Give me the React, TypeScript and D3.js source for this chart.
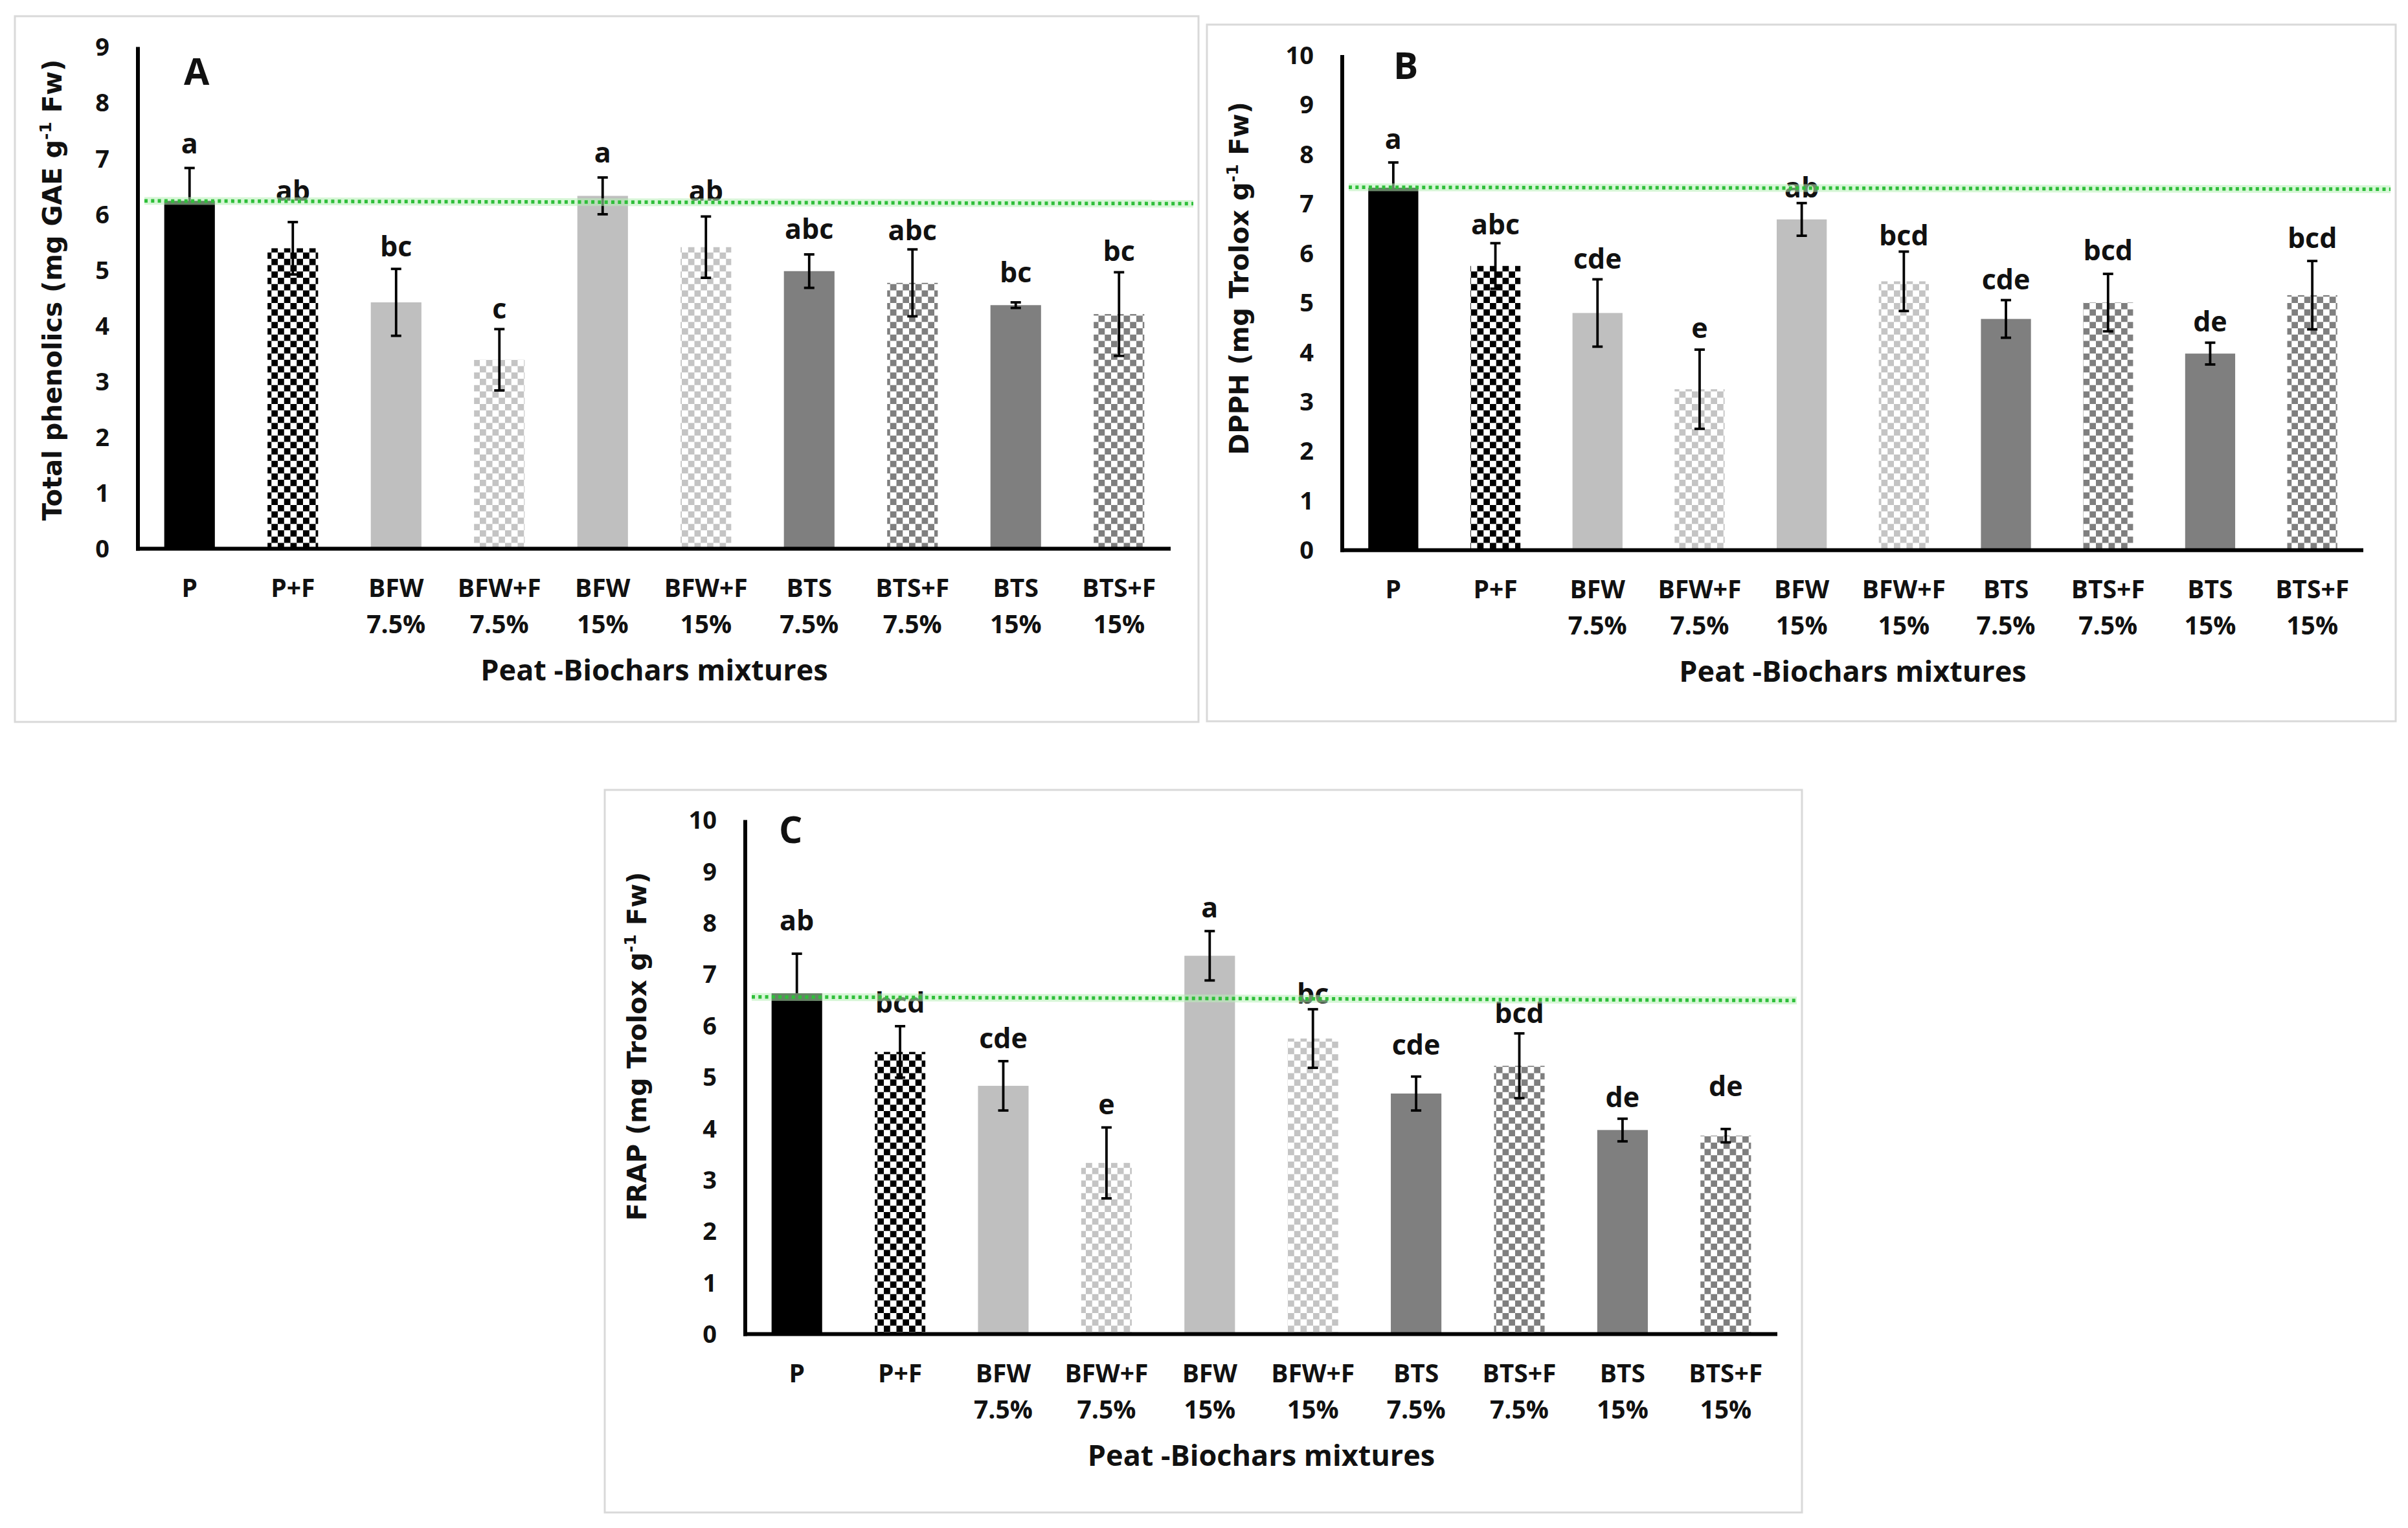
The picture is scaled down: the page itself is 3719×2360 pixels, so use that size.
import React from "react";
import * as d3 from "d3";

// categories (two-line tick labels)
const catTop = ["P", "P+F", "BFW", "BFW+F", "BFW", "BFW+F", "BTS", "BTS+F", "BTS", "BTS+F"];
const catBottom = ["", "", "7.5%", "7.5%", "15%", "15%", "7.5%", "7.5%", "15%", "15%"];

// A - total phenolics
const phenolicsMean = [6.24, 5.39, 4.42, 3.39, 6.33, 5.41, 4.98, 4.77, 4.37, 4.21];
const phenolicsErr = [0.59, 0.47, 0.6, 0.55, 0.33, 0.55, 0.3, 0.6, 0.05, 0.75];
const phenolicsLetters = ["a", "ab", "bc", "c", "a", "ab", "abc", "abc", "bc", "bc"];
const phenolicsLetterAt = [7.09, 6.24, 5.24, 4.13, 6.93, 6.24, 5.56, 5.53, 4.78, 5.16];
const phenolicsRef = [6.24, 6.19];

// B - DPPH
const dpphMean = [7.32, 5.74, 4.79, 3.25, 6.68, 5.43, 4.67, 5.0, 3.97, 5.15];
const dpphErr = [0.51, 0.46, 0.68, 0.8, 0.33, 0.6, 0.38, 0.58, 0.22, 0.69];
const dpphLetters = ["a", "abc", "cde", "e", "ab", "bcd", "cde", "bcd", "de", "bcd"];
const dpphLetterAt = [8.11, 6.38, 5.69, 4.28, 7.12, 6.16, 5.27, 5.85, 4.42, 6.1];
const dpphRef = [7.33, 7.29];

// C - FRAP
const frapMean = [6.63, 5.49, 4.83, 3.33, 7.36, 5.75, 4.68, 5.22, 3.97, 3.86];
const frapErr = [0.77, 0.5, 0.48, 0.69, 0.48, 0.57, 0.33, 0.63, 0.22, 0.13];
const frapLetters = ["ab", "bcd", "cde", "e", "a", "bc", "cde", "bcd", "de", "de"];
const frapLetterAt = [7.85, 6.26, 5.56, 4.28, 8.11, 6.43, 5.43, 6.05, 4.42, 4.63];
const frapRef = [6.56, 6.49];

const barFills = [
  "#000000", "url(#chkBlack)", "#bfbfbf", "url(#chkLight)", "#bfbfbf",
  "url(#chkLight)", "#7f7f7f", "url(#chkDark)", "#7f7f7f", "url(#chkDark)",
];

const W = 3719;
const H = 2360;
const FONT = "'Open Sans', 'Noto Sans', sans-serif";

const panels = [
  {
    id: "A", mean: phenolicsMean, err: phenolicsErr, letters: phenolicsLetters,
    letterAt: phenolicsLetterAt, ref: phenolicsRef, yMax: 9,
    yTitle: "Total phenolics (mg GAE g",
    box: [23, 25, 1851, 1115], x0: 213, x1: 1808, yTop: 72.6, yZero: 847.6,
    titleX: 80.6, titleY: 448, tagX: 284, tagY: 131,
  },
  {
    id: "B", mean: dpphMean, err: dpphErr, letters: dpphLetters,
    letterAt: dpphLetterAt, ref: dpphRef, yMax: 10,
    yTitle: "DPPH (mg Trolox g",
    box: [1864, 38, 3700, 1114], x0: 2073, x1: 3650, yTop: 85, yZero: 849.7,
    titleX: 1914, titleY: 430, tagX: 2152, tagY: 122,
  },
  {
    id: "C", mean: frapMean, err: frapErr, letters: frapLetters,
    letterAt: frapLetterAt, ref: frapRef, yMax: 10,
    yTitle: "FRAP (mg Trolox g",
    box: [934, 1220, 2783, 2336], x0: 1151, x1: 2745, yTop: 1266.6, yZero: 2060.5,
    titleX: 984, titleY: 1616, tagX: 1203, tagY: 1302,
  },
];

type PanelDef = (typeof panels)[number];

const Checker = ({ id, color }: { id: string; color: string }) => {
  const c = 9.75;
  return (
    <pattern id={id} patternUnits="userSpaceOnUse" width={c * 2} height={c * 2}>
      <rect width={c * 2} height={c * 2} fill="#ffffff" />
      <rect width={c} height={c} fill={color} />
      <rect x={c} y={c} width={c} height={c} fill={color} />
    </pattern>
  );
};

const Panel = ({ p }: { p: PanelDef }) => {
  const x = d3
    .scaleBand<number>()
    .domain(d3.range(catTop.length))
    .range([p.x0, p.x1])
    .paddingInner(0.51)
    .paddingOuter(0.255);
  const y = d3.scaleLinear().domain([0, p.yMax]).range([p.yZero, p.yTop]);
  const bw = x.bandwidth();
  const cap = 8;
  const [bx0, by0, bx1, by1] = p.box;
  const refX0 = p.x0 + 10;
  const refX1 = bx1 - 8;

  return (
    <g>
      <rect x={bx0} y={by0} width={bx1 - bx0} height={by1 - by0} fill="#ffffff" stroke="#d9d9d9" strokeWidth={3} />

      {/* bars */}
      {p.mean.map((m, i) => (
        <rect key={i} x={x(i)} y={y(m)} width={bw} height={y(0) - y(m)} fill={barFills[i]} />
      ))}

      {/* error bars */}
      {p.mean.map((m, i) => {
        const cx = (x(i) as number) + bw / 2;
        const hi = y(m + p.err[i]);
        const lo = y(m - p.err[i]);
        return (
          <g key={i} stroke="#000" strokeWidth={3.8}>
            <line x1={cx} x2={cx} y1={hi} y2={lo} />
            <line x1={cx - cap} x2={cx + cap} y1={hi} y2={hi} />
            <line x1={cx - cap} x2={cx + cap} y1={lo} y2={lo} />
          </g>
        );
      })}

      {/* axes */}
      <line x1={p.x0} x2={p.x0} y1={y(p.yMax)} y2={y(0) + 3} stroke="#000" strokeWidth={6} />
      <line x1={p.x0 - 3} x2={p.x1} y1={y(0)} y2={y(0)} stroke="#000" strokeWidth={6} />

      {y.ticks(p.yMax).map((t) => (
        <text key={t} x={p.x0 - 44} y={y(t)} dy="0.36em" textAnchor="end" fontFamily={FONT} fontWeight={700} fontSize={38} fill="#111">
          {t}
        </text>
      ))}

      {catTop.map((c, i) => {
        const cx = (x(i) as number) + bw / 2;
        return (
          <text key={i} textAnchor="middle" fontFamily={FONT} fontWeight={700} fontSize={39} fill="#111">
            <tspan x={cx} y={y(0) + 74}>{c}</tspan>
            {catBottom[i] && <tspan x={cx} y={y(0) + 130}>{catBottom[i]}</tspan>}
          </text>
        );
      })}

      {/* significance letters */}
      {p.letters.map((l, i) => (
        <text key={i} x={(x(i) as number) + bw / 2} y={y(p.letterAt[i])} textAnchor="middle" fontFamily={FONT} fontWeight={700} fontSize={43} fill="#111">
          {l}
        </text>
      ))}

      {/* control reference line */}
      <line x1={refX0} x2={refX1} y1={y(p.ref[0])} y2={y(p.ref[1])} stroke="#b8f0b8" strokeWidth={12} opacity={0.55} />
      <line x1={refX0} x2={refX1} y1={y(p.ref[0])} y2={y(p.ref[1])} stroke="#2fbf3a" strokeWidth={5.5} strokeDasharray="5 5.3" />

      <text x={p.tagX} y={p.tagY} fontFamily={FONT} fontWeight={700} fontSize={57} fill="#111">
        {p.id}
      </text>

      <text
        transform={`translate(${p.titleX},${p.titleY}) rotate(-90)`}
        textAnchor="middle"
        dy="0.35em"
        fontFamily="'DejaVu Sans', sans-serif"
        fontWeight={700}
        fontSize={40}
        fill="#111"
      >
        {p.yTitle}
        <tspan fontSize={25} dy={-16}>-1</tspan>
        <tspan dy={16}> Fw)</tspan>
      </text>

      <text x={(p.x0 + p.x1) / 2} y={y(0) + 203} textAnchor="middle" fontFamily={FONT} fontWeight={700} fontSize={45} fill="#111">
        Peat -Biochars mixtures
      </text>
    </g>
  );
};

export default function App() {
  return (
    <div style={{ position: "absolute", left: 0, top: 0 }}>
      <svg width={W} height={H} style={{ display: "block", background: "#ffffff" }}>
        <defs>
          <Checker id="chkBlack" color="#000000" />
          <Checker id="chkLight" color="#c4c4c4" />
          <Checker id="chkDark" color="#7f7f7f" />
        </defs>
        <rect width={W} height={H} fill="#ffffff" />
        {panels.map((p) => (
          <Panel key={p.id} p={p} />
        ))}
      </svg>
    </div>
  );
}
